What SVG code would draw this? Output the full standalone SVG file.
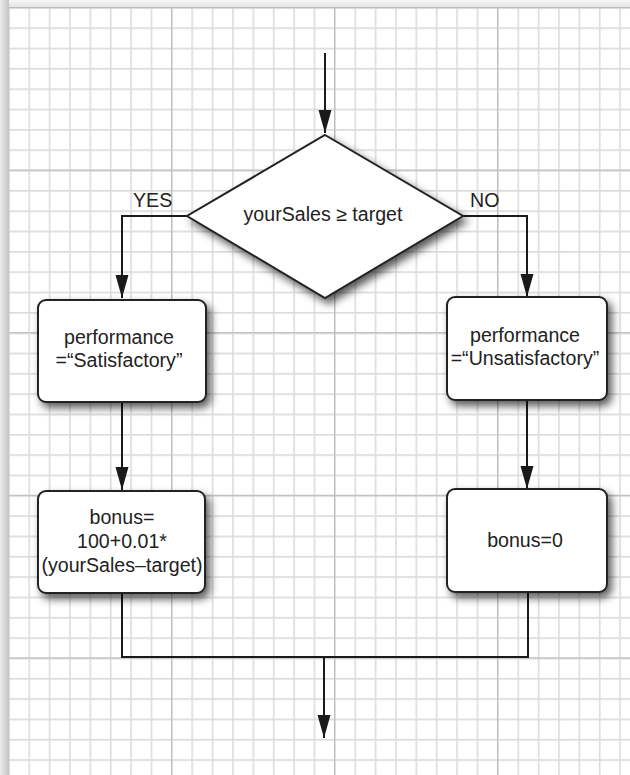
<svg xmlns="http://www.w3.org/2000/svg" width="630" height="775" viewBox="0 0 630 775">
<defs>
<style>
.box{fill:#fff;stroke:#222;stroke-width:2;filter:url(#sh)}
.ln{fill:none;stroke:#1a1a1a;stroke-width:2}
.t{font-family:"Liberation Sans",Arial,sans-serif;font-size:19.6px;fill:#222;text-anchor:middle}
.lbl{font-family:"Liberation Sans",Arial,sans-serif;font-size:19.6px;fill:#222}
</style>
<filter id="sh" x="-20%" y="-20%" width="150%" height="150%">
<feDropShadow dx="4" dy="5" stdDeviation="4" flood-color="#000" flood-opacity="0.65"/>
</filter>
<marker id="ah" markerUnits="userSpaceOnUse" markerWidth="24" markerHeight="14" viewBox="0 -7 24 14" refX="23" refY="0" orient="auto">
<path d="M0,-6.5 L23,0 L0,6.5 z" fill="#1a1a1a"/>
</marker>
<pattern id="minor" patternUnits="userSpaceOnUse" x="8" y="7" width="20.375" height="20.33">
<path d="M0,0 V20.33 M0,0 H20.375" stroke="#dcdcdc" stroke-width="3.2" fill="none"/>
</pattern>
<pattern id="major" patternUnits="userSpaceOnUse" x="8" y="7" width="163" height="162.6">
<path d="M0.5,0 V162.6 M0,0.5 H163" stroke="#bdbdbd" stroke-width="1.5" fill="none"/>
</pattern>
<linearGradient id="lg" x1="0" y1="0" x2="1" y2="0">
<stop offset="0" stop-color="#ececec"/>
<stop offset="1" stop-color="#c4c4c4"/>
</linearGradient>
<linearGradient id="tg" x1="0" y1="0" x2="0" y2="1">
<stop offset="0" stop-color="#f6f6f6"/>
<stop offset="1" stop-color="#e2e2e2"/>
</linearGradient>
</defs>
<g id="background">
<rect x="0" y="0" width="630" height="775" fill="#f2f2f2"/>
<rect x="0" y="0" width="630" height="8" fill="url(#tg)"/>
<rect x="0" y="0" width="9" height="775" fill="url(#lg)"/>
<rect x="9" y="7" width="621" height="768" fill="#fff"/>
<rect x="9" y="7" width="621" height="768" fill="url(#minor)"/>
<rect x="9" y="7" width="621" height="768" fill="url(#major)"/>
</g>
<g id="connectors">
<path class="ln" d="M325,53 V133" marker-end="url(#ah)"/>
<path class="ln" d="M187,216 H122 V298" marker-end="url(#ah)"/>
<path class="ln" d="M463,216 H527 V297" marker-end="url(#ah)"/>
<path class="ln" d="M122,402 V490" marker-end="url(#ah)"/>
<path class="ln" d="M527,400 V489" marker-end="url(#ah)"/>
<path class="ln" d="M122,593 V657 H528 V592"/>
<path class="ln" d="M324,657 V738" marker-end="url(#ah)"/>
<text class="lbl" x="133" y="207">YES</text>
<text class="lbl" x="470" y="207">NO</text>
</g>
<g id="decision">
<polygon class="box" points="325,135 463,216 325,298 187,216"/>
<text class="t" x="323" y="221">yourSales ≥ target</text>
</g>
<g id="perfSat">
<rect class="box" x="38" y="300" width="168" height="102" rx="8"/>
<text class="t" x="119" y="344">performance</text>
<text class="t" x="119" y="367">=“Satisfactory”</text>
</g>
<g id="perfUnsat">
<rect class="box" x="447" y="297" width="160" height="103" rx="8"/>
<text class="t" x="525" y="342">performance</text>
<text class="t" x="525" y="365">=“Unsatisfactory”</text>
</g>
<g id="bonusCalc">
<rect class="box" x="38" y="491" width="167" height="102" rx="8"/>
<text class="t" x="122" y="524">bonus=</text>
<text class="t" x="122" y="548">100+0.01*</text>
<text class="t" x="122" y="572">(yourSales–target)</text>
</g>
<g id="bonusZero">
<rect class="box" x="447" y="489" width="160" height="103" rx="8"/>
<text class="t" x="525" y="547">bonus=0</text>
</g>
</svg>
